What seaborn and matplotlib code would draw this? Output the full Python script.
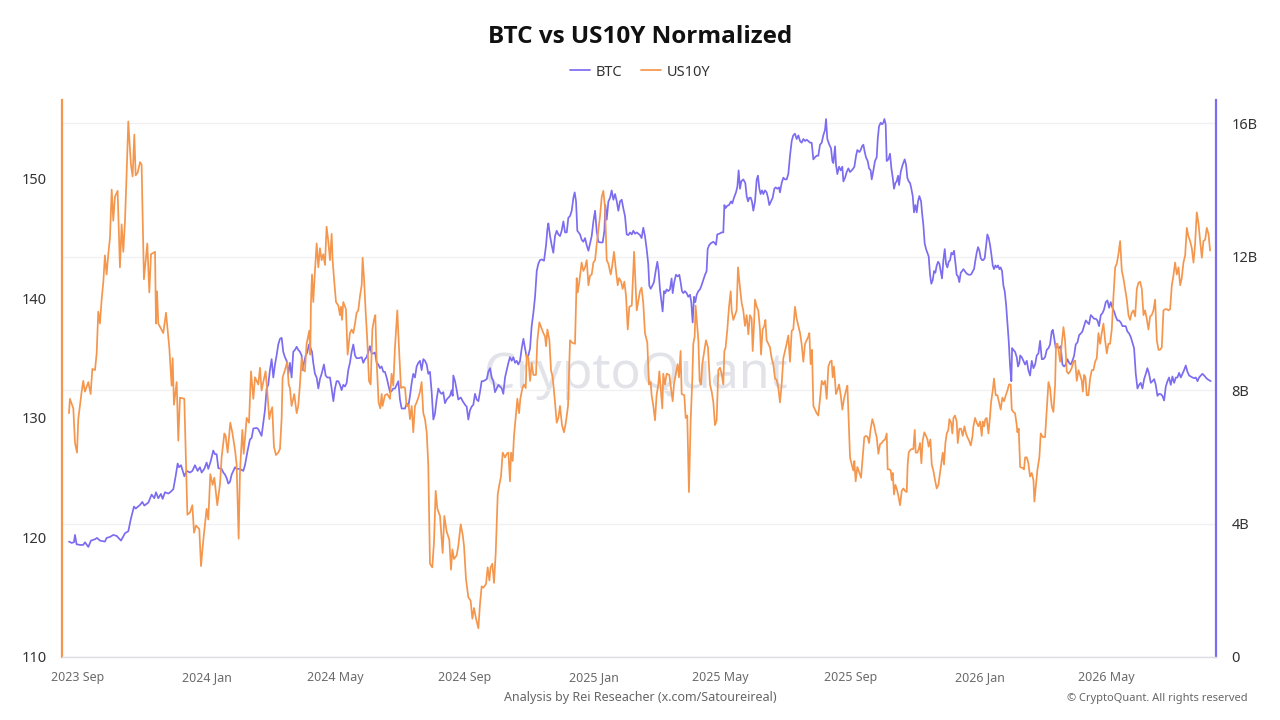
import numpy as np
import pandas as pd
import matplotlib
matplotlib.use("Agg")
import matplotlib.pyplot as plt
import matplotlib.dates as mdates
from matplotlib.ticker import FuncFormatter, FixedLocator
import seaborn as sns

# ---------------- data (day offsets from 2023-09-01) ----------------
START = "2023-09-01"

us10y_day = [
 -8.5,-7.6,-4.4,-2.8,-0.9,0.3,3.5,5.0,6.6,9.8,12.0,13.6,16.1,17.7,19.2,20.8,22.4,24.0,25.5,27.1,28.7,30.3,31.9,33.4,35.0,37.5,39.7,41.3,42.9,44.5,46.1,47.6,50.1,51.7,53.3,54.6,56.4,58.7,60.2,62.4,65.6,67.5,69.1,72.9,73.8,74.8,76.0,80.7,83.3,86.4,88.6,89.6,90.8,93.4,94.9,96.5,100.6,103.5,106.0,108.2,109.8,111.7,114.8,116.4,118.6,121.7,123.3,125.2,127.4,129.0,131.8,134.4,135.9,138.5,139.7,141.6,144.1,146.0,148.6,150.1,152.0,153.3,155.5,156.8,159.6,161.8,163.7,165.9,167.5,170.6,
 172.2,173.7,175.3,177.5,179.1,181.0,182.3,183.8,185.4,187.3,189.5,191.1,192.7,193.6,195.8,198.0,199.3,200.5,202.1,204.6,206.9,208.4,210.0,211.6,213.2,214.7,216.3,218.8,219.8,220.4,221.4,222.6,224.2,225.8,227.4,228.9,230.5,232.1,233.7,235.2,236.8,238.4,240.0,240.9,242.2,244.1,246.3,247.9,248.8,249.8,251.0,253.5,255.1,257.3,258.9,260.5,262.1,263.6,265.2,266.8,268.4,269.3,270.6,272.1,273.7,275.3,276.9,278.5,280.0,281.3,282.6,284.4,286.0,287.3,288.2,290.4,292.6,295.2,296.7,298.3,299.9,302.1,304.0,305.6,307.8,309.4,310.9,312.8,314.1,315.7,317.2,318.8,320.4,322.0,323.6,325.1,326.7,328.3,329.9,331.4,333.0,335.2,336.8,338.4,340.0,342.5,345.0,346.6,348.8,
 351.3,352.9,354.2,355.7,358.3,359.8,362.1,364.0,365.2,367.1,369.3,371.5,373.1,374.7,376.6,378.8,380.3,381.9,383.5,386.0,387.6,389.2,390.4,392.0,393.6,395.2,397.1,398.6,400.2,401.8,404.0,405.6,407.2,408.7,409.7,411.3,412.5,414.4,415.7,417.3,418.5,420.4,422.0,423.6,424.5,426.1,427.7,429.2,430.8,433.3,434.6,436.5,438.1,440.3,441.9,442.8,444.1,446.0,447.5,449.1,450.7,452.9,454.5,456.0,457.9,459.8,461.7,463.6,465.5,467.4,470.2,471.8,472.8,474.3,476.5,478.1,479.7,481.3,482.9,484.4,486.0,487.6,489.2,490.7,492.3,493.9,495.5,497.0,498.6,500.2,501.8,504.0,505.2,507.1,509.0,510.6,511.9,513.8,515.3,516.9,518.5,520.1,521.6,523.9,526.1,528.6,
 531.7,533.2,534.8,536.4,538.6,540.2,541.8,542.7,544.3,545.9,547.4,549.0,550.0,551.5,552.8,553.7,555.3,556.9,559.4,561.0,562.6,563.8,565.7,567.3,568.6,570.1,571.1,573.6,574.9,576.4,578.0,579.6,581.2,582.1,583.4,584.3,585.6,586.9,588.1,589.4,590.6,592.2,594.1,596.0,597.9,599.5,601.1,602.6,604.2,605.8,607.4,608.9,610.5,611.5,612.7,614.3,615.9,617.5,618.4,620.0,621.6,623.1,624.4,626.3,627.9,629.4,631.0,632.6,634.2,635.7,637.3,638.3,639.5,640.5,642.1,643.6,645.2,646.2,647.7,649.3,650.3,651.5,653.1,654.7,656.2,657.8,659.4,661.0,662.6,664.1,665.7,667.3,668.9,670.4,672.0,673.6,675.2,676.7,678.3,679.9,681.5,683.1,684.6,686.2,687.8,689.4,690.9,691.9,693.1,694.4,695.7,697.2,698.8,700.4,702.0,703.6,705.1,706.7,708.3,709.9,
 711.5,713.0,714.0,715.2,716.2,717.1,718.4,720.0,721.6,723.1,724.7,726.6,727.9,729.1,730.4,732.0,733.5,734.5,735.7,737.3,739.2,740.8,742.4,743.9,745.5,747.1,748.4,749.9,751.5,753.1,754.7,755.6,757.2,758.8,760.3,761.9,763.5,765.1,766.0,767.6,768.9,769.8,770.8,772.0,773.3,774.5,776.1,777.7,779.3,780.9,782.4,784.0,784.9,785.9,787.2,788.7,790.3,791.6,792.5,794.1,795.4,796.6,797.9,799.1,800.7,802.3,803.6,804.8,806.4,807.7,809.2,810.8,812.4,814.0,815.5,817.1,818.1,819.3,820.6,821.9,823.4,824.4,826.0,827.2,828.2,829.7,831.3,832.3,833.8,835.4,837.0,838.6,840.1,841.4,843.0,844.6,846.1,847.1,848.7,850.2,851.8,853.4,855.0,855.9,857.2,858.4,859.7,861.3,862.9,863.8,865.4,866.6,868.2,869.8,871.4,872.9,874.5,876.1,877.7,879.3,880.8,882.4,883.4,884.9,886.5,888.1,888.7,890.0,
 891.3,893.8,895.0,896.0,897.6,899.1,900.7,902.3,903.9,904.8,906.1,907.7,909.5,910.8,912.7,914.9,916.5,918.1,919.6,921.2,922.8,924.4,925.3,926.6,927.8,929.1,930.7,932.3,933.8,935.4,937.0,938.6,940.2,941.7,943.3,944.9,946.5,948.0,949.6,950.6,951.8,953.1,954.3,955.9,957.5,959.1,960.7,962.2,963.8,965.4,967.0,968.5,970.1,971.7,973.3,974.8,976.4,978.0,979.6,981.2,982.7,984.3,985.9,987.5,989.0,990.6,992.2,993.8,995.3,996.9,998.5,1000.1,1001.7,1003.2,1004.8,1006.4,1008.0,1009.5,1011.1,1012.7,1014.3,1015.8,1017.4,1019.0,1020.6,1022.2,1023.7,1025.3,1026.9,1028.5,1030.0,1031.6,1033.2,1034.8,1036.3,1037.9,1039.5,1041.1,1042.7,1044.2,1045.8,1047.4,1049.0,1050.5,1052.1,1053.7,1055.3,1056.8,1058.4,1060.0,1061.6,1063.2,1064.7,1066.3,1067.9,1069.5,1071.0,
]
us10y_val = [
 130.4,131.6,130.8,127.9,127.1,129.9,132.2,133.1,132.2,133.0,132.0,134.1,134.0,135.4,138.9,137.9,139.9,141.4,143.6,142.0,143.7,145.1,149.1,146.5,148.5,149.0,142.6,146.2,143.9,146.5,150.6,154.8,151.2,150.2,153.7,150.3,150.5,151.4,151.2,141.6,144.6,140.5,143.7,143.9,137.9,140.6,137.9,137.1,138.8,135.9,132.7,135.0,131.1,133.0,128.1,131.7,131.6,121.9,122.1,122.7,120.4,121.0,120.7,117.6,119.8,122.4,121.5,125.3,124.4,125.0,122.7,124.5,126.7,128.7,128.5,127.1,129.6,128.8,127.3,126.1,119.9,125.6,129.0,127.0,130.0,129.6,133.9,131.6,133.4,132.8,
 134.2,132.3,133.0,133.9,132.2,129.9,130.5,130.9,127.6,126.9,127.1,127.4,130.0,133.4,134.0,134.7,132.8,132.5,131.0,132.0,130.4,131.0,132.8,135.0,134.0,133.9,136.2,137.3,135.3,139.6,142.0,139.7,142.3,144.6,142.6,144.2,143.2,143.7,142.8,146.0,144.8,143.2,145.4,143.2,141.7,139.7,139.4,138.6,139.3,138.2,139.7,139.1,135.3,137.1,137.4,137.1,137.9,138.8,139.0,140.2,141.1,143.4,141.7,139.0,136.5,133.1,132.8,137.4,138.2,138.6,134.7,131.3,130.8,132.0,131.0,131.9,132.0,131.6,133.7,132.7,135.9,139.0,135.3,132.5,132.6,132.5,131.0,131.1,129.9,131.0,128.8,131.0,131.3,131.7,132.2,133.0,130.4,129.9,128.8,126.1,117.8,117.5,119.6,123.9,122.4,121.8,118.7,121.8,120.5,
 119.8,117.3,119.0,118.2,118.5,119.3,121.1,120.2,119.3,116.5,115.0,114.7,113.2,114.1,113.2,112.4,114.4,115.9,115.8,116.1,117.5,116.4,117.5,117.8,116.2,118.7,123.6,124.4,125.1,127.1,126.7,127.0,127.1,124.7,127.1,126.4,128.5,130.4,131.6,130.4,131.6,132.5,132.8,132.5,135.3,135.0,133.1,134.6,133.6,133.6,136.5,138.0,137.6,137.1,136.8,136.0,137.4,136.5,134.0,133.4,131.9,129.6,130.0,131.0,129.4,128.8,129.7,131.0,136.5,136.3,136.2,141.7,140.5,141.4,143.0,142.3,142.6,143.2,141.1,141.9,142.0,143.0,143.2,144.5,145.7,146.9,148.5,149.0,147.6,143.2,142.9,142.0,142.6,143.9,142.3,141.1,141.7,141.4,140.8,141.4,140.2,137.4,139.3,139.4,143.9,139.0,
 140.6,140.9,139.6,137.1,136.3,132.8,133.0,131.9,131.0,129.8,131.9,132.8,133.9,132.2,130.8,133.7,132.8,133.7,133.6,132.5,131.4,132.8,133.7,134.5,133.4,135.6,132.0,131.9,130.0,130.2,123.8,129.7,133.3,136.2,136.8,139.4,138.0,136.5,133.1,132.8,134.5,135.4,136.5,135.9,132.8,132.2,131.3,129.4,129.8,134.0,134.2,133.7,132.8,135.6,135.9,137.4,139.3,140.6,139.0,138.2,138.6,139.0,142.6,140.9,139.6,139.0,137.7,138.6,137.0,138.6,138.3,135.6,137.7,139.9,139.3,139.0,137.4,135.3,137.4,137.7,138.2,136.5,136.2,135.9,135.0,134.5,133.3,133.2,132.5,131.3,132.8,135.0,135.6,136.2,136.9,134.7,137.3,137.4,139.3,138.3,137.7,137.1,136.2,134.7,136.2,136.5,136.8,137.1,134.5,135.7,131.0,130.7,130.4,130.2,131.6,133.1,132.8,133.1,131.6,134.3,
 134.7,134.8,133.4,134.3,133.1,132.0,132.3,132.8,131.9,130.7,131.6,132.3,132.7,129.7,126.7,126.1,125.6,126.4,124.7,125.9,125.4,125.0,126.7,128.4,128.5,128.4,127.9,129.1,129.9,129.4,128.7,128.4,127.0,127.8,127.9,128.1,128.2,128.7,125.7,125.7,125.6,124.8,125.4,123.6,124.4,124.1,123.5,122.7,123.9,124.1,123.9,123.8,126.1,127.1,127.3,127.4,127.4,129.0,127.1,127.1,127.4,127.9,126.2,128.1,128.8,128.5,128.2,127.6,128.2,126.1,125.6,124.8,124.1,124.4,125.4,126.4,127.1,126.1,127.9,128.7,129.0,129.9,129.6,128.7,130.0,130.2,129.7,127.9,129.1,129.1,128.5,129.3,128.7,128.4,128.1,127.7,128.4,129.3,130.0,129.6,129.3,129.7,128.5,129.7,129.3,129.9,130.0,128.7,130.2,131.3,132.3,133.3,131.9,131.9,131.3,130.7,131.7,131.4,131.9,132.3,132.8,132.8,130.7,130.5,130.4,129.4,128.8,129.1,
 125.9,125.8,125.7,126.7,126.7,126.2,125.1,125.4,124.8,123.0,124.2,125.7,126.7,128.7,128.4,128.4,130.7,133.0,132.5,131.0,130.5,132.8,136.2,136.2,135.6,134.7,136.2,137.6,136.5,133.9,133.7,133.9,134.2,134.7,134.8,133.1,134.0,133.6,133.1,132.2,133.6,133.4,131.9,131.9,133.3,134.0,134.0,134.7,135.0,137.1,136.2,137.1,137.9,136.5,135.4,136.2,136.2,137.4,140.2,142.6,142.9,143.7,144.8,142.3,141.7,140.8,139.9,138.6,138.2,138.8,139.0,138.5,140.8,141.3,141.4,140.8,138.6,139.0,138.3,137.4,138.5,138.6,139.0,139.9,136.5,135.7,135.7,135.9,139.0,139.1,139.1,139.0,139.1,141.1,141.9,143.0,142.0,142.6,141.1,141.7,143.0,143.6,145.9,145.2,144.8,144.2,143.0,144.5,147.2,146.3,144.8,143.4,144.8,144.9,145.9,145.4,144.0,
]

btc_day = [
 -8.5,-6.0,-3.8,-2.8,-1.3,1.9,5.0,6.6,9.8,12.3,16.1,18.0,20.8,25.5,27.1,30.3,33.4,36.6,40.7,44.5,47.6,50.1,53.0,54.6,58.7,60.9,62.8,66.6,69.7,72.2,73.8,76.0,78.5,80.1,82.3,85.5,88.0,90.2,92.4,94.3,95.6,97.5,100.6,102.8,106.0,108.2,110.7,113.2,115.4,117.0,119.5,121.7,123.3,125.5,128.0,129.6,131.2,132.8,135.9,137.5,139.1,140.7,142.2,143.8,145.4,148.6,150.1,153.3,156.4,158.0,160.5,162.7,164.3,165.9,169.1,
 170.6,173.7,175.3,176.9,178.5,180.0,181.6,183.2,184.8,186.4,187.9,189.5,191.1,192.7,194.2,195.8,197.4,199.0,200.5,202.1,203.7,205.3,206.9,208.4,210.0,211.6,212.5,213.8,215.4,216.9,218.5,220.1,221.4,222.6,224.2,225.8,227.4,228.9,230.5,232.7,234.3,235.9,238.4,240.0,241.6,243.1,244.7,246.3,247.9,249.4,251.0,252.6,254.2,255.7,257.3,258.9,260.5,262.1,263.6,265.8,268.4,269.9,271.5,273.1,274.7,276.2,277.8,279.4,281.0,282.6,284.1,285.7,287.3,288.9,290.4,292.0,293.6,295.2,296.7,298.3,299.9,301.5,303.1,304.6,306.2,307.8,309.4,310.9,312.5,314.1,315.7,317.2,318.8,320.4,322.0,323.6,325.1,326.7,328.3,329.9,331.4,333.0,334.6,336.2,337.7,339.3,340.9,342.5,344.0,345.6,347.2,348.8,
 352.0,353.5,354.5,355.1,356.7,358.3,359.8,362.1,364.0,366.2,367.7,369.3,370.9,372.5,374.0,375.6,377.2,378.8,380.3,381.9,383.5,386.7,388.2,389.8,391.4,393.0,394.5,396.1,397.7,399.3,400.9,402.4,404.0,405.6,407.2,408.7,410.3,411.9,413.5,415.0,416.6,418.2,419.8,421.4,422.9,424.5,426.1,427.7,429.2,430.8,432.4,434.0,435.5,437.1,438.7,440.9,442.8,444.1,445.0,446.6,448.2,449.7,451.3,452.9,454.5,456.0,457.6,459.2,460.8,462.4,463.9,465.5,467.1,468.7,469.9,471.2,472.4,475.0,476.5,478.1,479.7,481.3,482.9,484.4,486.0,487.6,489.2,490.7,492.3,493.9,496.4,498.0,498.9,500.2,501.8,503.4,504.9,506.5,508.1,509.7,511.2,512.8,514.4,516.0,517.5,519.1,520.7,522.3,523.9,525.4,527.0,528.6,
 531.7,533.2,534.8,536.4,538.0,539.5,540.5,541.8,543.3,544.9,546.5,548.1,549.3,550.6,552.2,553.1,554.4,555.6,556.9,558.5,560.0,561.6,562.6,564.1,565.7,567.3,568.9,570.1,571.4,572.7,574.2,575.8,577.4,579.0,580.2,581.5,582.8,584.0,585.3,586.9,588.4,590.0,591.6,593.2,594.7,595.7,597.0,598.5,601.1,602.6,603.6,604.8,606.7,608.9,610.5,611.5,612.7,614.3,615.9,617.8,619.0,620.6,622.5,623.8,625.0,626.3,627.5,629.4,631.3,632.6,633.9,635.1,636.4,637.6,638.9,640.5,642.1,643.3,644.6,645.8,647.1,648.4,649.9,651.5,652.8,654.0,655.6,657.2,658.8,660.0,661.6,663.2,664.1,665.7,667.3,668.9,670.4,672.0,673.6,675.2,676.7,678.3,679.9,681.5,683.1,684.6,686.2,687.8,689.4,690.9,692.5,694.1,695.7,697.2,698.8,700.4,702.0,703.6,705.1,706.7,707.7,708.9,710.8,
 712.4,713.7,714.6,716.2,717.1,718.4,720.0,721.6,723.1,724.1,725.7,727.2,728.8,730.4,732.0,733.5,734.5,736.1,737.3,739.2,740.5,741.7,743.0,744.3,745.5,747.1,748.4,749.9,750.9,752.5,754.0,755.6,756.6,757.8,759.4,760.7,761.9,762.9,764.1,765.1,766.7,768.2,769.5,770.8,772.0,773.3,774.5,775.8,776.8,778.3,780.2,782.1,783.4,784.6,785.9,787.2,788.4,789.7,790.9,792.2,793.5,794.7,796.0,797.6,798.5,799.8,801.0,802.3,803.6,804.8,806.1,807.3,808.6,809.9,811.1,812.4,813.7,814.9,816.2,817.4,818.7,820.0,821.2,822.5,823.7,825.0,826.3,827.5,828.8,830.1,831.3,832.6,833.8,835.1,836.4,837.6,838.9,840.1,841.4,842.7,843.9,845.2,846.5,847.7,849.0,850.2,851.5,852.8,854.0,855.3,856.5,857.8,859.1,860.3,861.6,862.9,864.1,865.4,866.6,867.9,869.2,870.4,871.7,872.9,874.2,875.5,876.7,878.0,879.3,880.5,881.8,883.0,883.7,884.9,886.5,888.1,889.3,890.6,
 891.3,892.8,894.4,896.0,897.6,899.1,900.7,902.3,903.9,905.5,907.0,908.6,910.2,911.8,913.2,914.9,916.5,918.1,919.6,921.2,922.2,923.4,925.0,926.6,928.2,929.7,931.3,932.9,934.5,936.0,937.6,939.2,940.8,942.4,943.9,945.5,947.1,948.7,950.2,951.8,953.4,955.0,956.5,958.1,959.7,961.3,962.9,964.4,966.0,967.6,969.2,970.7,972.3,973.9,975.5,977.0,978.6,980.2,981.8,983.4,984.9,986.5,988.1,989.7,991.2,992.8,994.4,996.0,997.5,999.1,1000.7,1002.3,1003.9,1005.4,1007.0,1008.6,1010.2,1011.7,1013.3,1014.9,1016.5,1018.1,1019.6,1021.2,1022.8,1024.4,1025.9,1027.5,1029.1,1030.7,1032.2,1033.8,1035.4,1037.0,1038.6,1040.1,1041.7,1043.3,1044.9,1046.4,1048.0,1049.6,1051.2,1052.7,1054.3,1055.9,1057.5,1059.1,1060.6,1062.2,1063.8,1065.4,1066.9,1068.5,1070.1,1071.6,
]
btc_val = [
 3.46,3.42,3.44,3.66,3.38,3.36,3.36,3.44,3.30,3.49,3.53,3.57,3.49,3.46,3.57,3.60,3.66,3.63,3.49,3.71,3.77,4.15,4.51,4.45,4.56,4.65,4.54,4.63,4.87,4.76,4.94,4.76,4.89,4.74,4.94,4.90,4.96,5.03,5.42,5.80,5.69,5.75,5.42,5.58,5.53,5.58,5.75,5.58,5.69,5.53,5.64,5.83,5.64,5.86,6.19,6.08,6.08,5.66,5.64,5.53,5.47,5.36,5.20,5.25,5.47,5.69,5.64,5.64,5.58,5.75,6.19,6.52,6.57,6.85,6.87,
 6.83,6.63,7.01,7.40,8.05,8.16,8.60,8.93,8.38,8.77,9.04,9.37,9.54,9.57,9.15,8.99,8.88,8.49,8.82,8.38,9.15,9.21,9.30,9.21,9.15,9.04,8.60,8.82,9.04,9.13,9.37,9.26,9.15,8.82,8.49,8.38,8.05,8.33,8.49,8.77,8.44,8.38,8.38,8.05,7.67,8.05,8.27,8.27,8.16,8.00,8.16,8.11,8.22,8.60,8.82,9.15,9.37,9.04,8.96,8.96,8.99,8.82,8.93,8.99,9.15,9.32,9.10,9.10,9.13,8.82,8.77,8.66,8.71,8.55,8.55,8.38,8.16,7.94,7.97,8.05,8.05,8.16,8.27,7.72,7.45,7.45,7.45,7.61,7.51,7.83,8.22,8.49,8.38,8.71,8.82,8.88,8.60,8.93,8.88,8.77,8.49,8.55,7.94,7.12,7.29,7.72,8.05,7.94,7.89,7.94,7.61,7.72,
 7.83,8.00,7.83,8.44,8.27,8.00,7.72,7.78,7.67,7.56,7.51,7.12,7.40,7.51,7.56,7.89,7.72,7.67,7.94,8.27,8.27,8.33,8.55,8.66,8.38,8.27,7.94,8.05,8.16,8.11,8.05,7.89,8.38,8.60,8.82,8.99,8.88,8.99,8.82,8.88,8.77,8.88,9.26,9.54,9.26,8.99,9.04,9.26,9.92,10.31,10.80,11.57,11.79,11.90,11.92,11.88,12.34,12.83,13.00,12.62,12.34,12.12,12.62,12.78,12.67,12.62,12.78,13.06,12.73,12.73,13.17,13.22,13.38,13.77,13.93,13.66,12.78,12.67,12.51,12.45,12.56,12.34,12.18,12.40,12.62,13.06,13.38,12.78,12.45,12.43,12.43,12.78,13.55,13.11,13.66,13.77,13.99,13.71,13.88,13.66,13.38,13.66,13.71,13.44,13.22,12.67,12.65,12.73,12.67,12.78,12.69,12.73,
 12.65,12.56,12.87,12.62,12.23,11.79,11.13,11.04,11.13,11.24,11.57,11.85,11.57,11.02,10.58,10.36,10.97,10.91,11.02,10.97,11.02,11.35,10.91,11.24,11.46,11.41,11.46,11.24,10.97,10.91,10.97,10.91,10.80,10.86,10.64,10.03,10.80,10.64,10.86,10.97,11.02,11.15,11.30,11.46,11.57,12.23,12.34,12.40,12.45,12.40,12.36,12.67,12.69,12.73,12.73,13.55,13.46,13.53,13.55,13.66,13.60,13.77,13.93,14.10,14.59,14.04,14.26,14.32,14.21,13.82,13.66,13.77,13.77,13.66,13.38,13.66,14.32,14.43,14.04,13.88,13.99,13.88,13.99,13.93,13.77,13.55,13.66,13.77,14.04,14.08,14.04,14.08,13.93,14.21,14.37,14.32,14.32,14.48,15.03,15.47,15.64,15.69,15.53,15.64,15.47,15.42,15.53,15.47,15.51,15.47,15.42,15.42,14.92,14.98,15.03,15.03,15.36,15.42,15.64,15.80,16.13,15.53,15.36,
 15.25,14.87,14.81,15.31,14.76,14.48,14.70,14.59,14.70,14.26,14.37,14.54,14.65,14.54,14.59,14.65,14.70,15.03,15.20,15.14,15.20,15.31,15.36,15.14,14.98,14.87,14.65,14.59,14.32,14.59,14.87,14.98,15.53,15.91,16.02,15.97,16.02,16.13,15.97,14.87,14.92,15.09,14.65,14.37,14.04,14.21,14.26,14.43,14.15,14.54,14.76,14.92,14.76,14.37,14.26,14.21,14.04,13.82,13.33,13.55,13.33,13.66,13.82,13.66,13.33,12.94,12.40,12.23,12.12,12.01,11.46,11.19,11.30,11.57,11.52,11.74,11.85,11.79,11.57,11.35,11.90,12.23,11.79,11.68,11.85,11.90,12.12,12.07,12.18,11.79,11.46,11.41,11.24,11.52,11.57,11.63,11.57,11.52,11.48,11.46,11.46,11.48,11.57,11.63,11.90,12.12,12.29,12.18,11.96,11.90,11.90,11.96,12.34,12.67,12.56,12.34,12.07,11.74,11.63,11.74,11.68,11.74,11.63,11.68,11.57,11.13,10.97,10.58,10.03,9.48,8.71,8.27,9.26,9.21,9.15,8.99,8.71,8.82,
 9.04,8.99,8.88,8.77,8.88,8.60,8.44,8.88,8.66,8.77,9.04,9.10,9.48,8.93,8.93,8.99,9.21,9.26,9.37,9.76,9.81,9.59,9.26,9.32,9.26,9.32,8.77,8.71,8.77,8.93,8.82,8.77,8.88,9.04,9.37,9.43,9.65,9.70,9.76,9.92,10.09,10.03,9.98,10.25,10.20,10.14,10.14,10.09,9.92,10.25,10.31,10.42,10.64,10.69,10.47,10.64,10.47,10.36,10.20,10.09,10.09,10.03,9.92,9.92,9.92,9.76,9.70,9.59,9.43,9.26,8.49,8.05,8.16,8.22,8.05,8.33,8.49,8.66,8.49,8.22,8.27,8.33,8.16,7.83,7.89,7.88,7.83,7.69,8.11,8.27,8.38,8.16,8.41,8.22,8.38,8.38,8.52,8.38,8.49,8.60,8.74,8.55,8.44,8.41,8.38,8.36,8.38,8.27,8.38,8.44,8.49,8.44,8.38,8.33,8.30,8.27,
]

left_ticks = [110, 120, 130, 140, 150]
right_ticks = [0, 4, 8, 12, 16]
left_range = (110, 156.6)
right_range = (0, 16.7)
x_range_days = (-15.1, 1076.6)

TITLE = "BTC vs US10Y Normalized"
SERIES = ["BTC", "US10Y"]
FOOT_CENTER = "Analysis by Rei Reseacher (x.com/Satoureireal)"
FOOT_RIGHT = "© CryptoQuant. All rights reserved"
WATERMARK = "CryptoQuant"

C_BTC = "#7b6cf0"
C_US = "#f5964d"

# ---------------- build frames ----------------
t0 = pd.Timestamp(START)
df_us = pd.DataFrame({"date": t0 + pd.to_timedelta(us10y_day, unit="D"), "value": us10y_val})
df_btc = pd.DataFrame({"date": t0 + pd.to_timedelta(btc_day, unit="D"), "value": btc_val})

sns.set_theme(style="white")
plt.rcParams["font.family"] = ["Noto Sans", "DejaVu Sans"]

fig = plt.figure(figsize=(12.8, 7.2), dpi=100)
fig.patch.set_facecolor("white")
ax = fig.add_axes([62/1280, 1 - 657/720, (1216-62)/1280, (657-100)/720])
ax2 = ax.twinx()

# BTC on right axis (drawn below)
sns.lineplot(data=df_btc, x="date", y="value", ax=ax2, color=C_BTC, linewidth=1.25,
             estimator=None, sort=False, label=SERIES[0], legend=False)
# US10Y on left axis (drawn on top)
sns.lineplot(data=df_us, x="date", y="value", ax=ax, color=C_US, linewidth=1.25,
             estimator=None, sort=False, label=SERIES[1], legend=False)

ax.set_zorder(ax2.get_zorder() + 1)
ax.patch.set_visible(False)
ax2.patch.set_facecolor("white")

ax.set_ylim(*left_range)
ax2.set_ylim(*right_range)
ax.set_xlim(t0 + pd.Timedelta(days=x_range_days[0]), t0 + pd.Timedelta(days=x_range_days[1]))

ax.yaxis.set_major_locator(FixedLocator(left_ticks))
ax2.yaxis.set_major_locator(FixedLocator(right_ticks))
ax2.yaxis.set_major_formatter(FuncFormatter(lambda v, p: "0" if v == 0 else f"{int(v)}B"))

ax.xaxis.set_major_locator(mdates.MonthLocator(bymonth=[1, 5, 9], bymonthday=1))
ax.xaxis.set_major_formatter(mdates.DateFormatter("%Y %b"))

ax.set_xlabel("")
ax.set_ylabel("")
ax2.set_ylabel("")
ax2.set_xlabel("")

ax2.grid(axis="y", color="#f1f1f3", linewidth=1.0)
ax2.grid(axis="x", visible=False)
ax.grid(False)

for s in ["top", "right"]:
    ax.spines[s].set_visible(False)
for s in ["top", "left", "bottom"]:
    ax2.spines[s].set_visible(False)
ax.spines["left"].set_color(C_US)
ax.spines["left"].set_linewidth(1.6)
ax2.spines["right"].set_color(C_BTC)
ax2.spines["right"].set_linewidth(1.6)
ax.spines["bottom"].set_color("#dcdce3")
ax.spines["bottom"].set_linewidth(1.0)

ax.tick_params(axis="y", length=0, pad=11, labelsize=10.5, labelcolor="#333333")
ax2.tick_params(axis="y", length=0, pad=11, labelsize=10.5, labelcolor="#333333")
ax.tick_params(axis="x", length=5, width=1, color="#dcdce3", pad=5, labelsize=9, labelcolor="#6b6b6b")

# watermark
ax2.text(0.497, 0.507, WATERMARK, transform=ax2.transAxes, ha="center", va="center",
         fontsize=36, color="#e2e2e9", zorder=0.5, family=["Noto Sans", "DejaVu Sans"])

# title and legend
fig.text(0.5, 1 - 37/720, TITLE, ha="center", va="center", fontsize=17.5, fontweight="bold",
         color="#111111", family=["Open Sans", "DejaVu Sans"])
h_btc = ax2.get_lines()[0]
h_us = ax.get_lines()[0]
leg = fig.legend([h_btc, h_us], SERIES, loc="center", bbox_to_anchor=(0.5, 1 - 72/720), ncol=2,
                 frameon=False, fontsize=10.5, handlelength=1.4, handletextpad=0.35, columnspacing=1.3)
for t in leg.get_texts():
    t.set_color("#333333")

fig.text(0.5, 1 - 698/720, FOOT_CENTER, ha="center", va="center", fontsize=9, color="#666666")
fig.text(1248/1280, 1 - 698/720, FOOT_RIGHT, ha="right", va="center", fontsize=8, color="#666666")

fig.savefig("out.png", dpi=100, facecolor="white")
